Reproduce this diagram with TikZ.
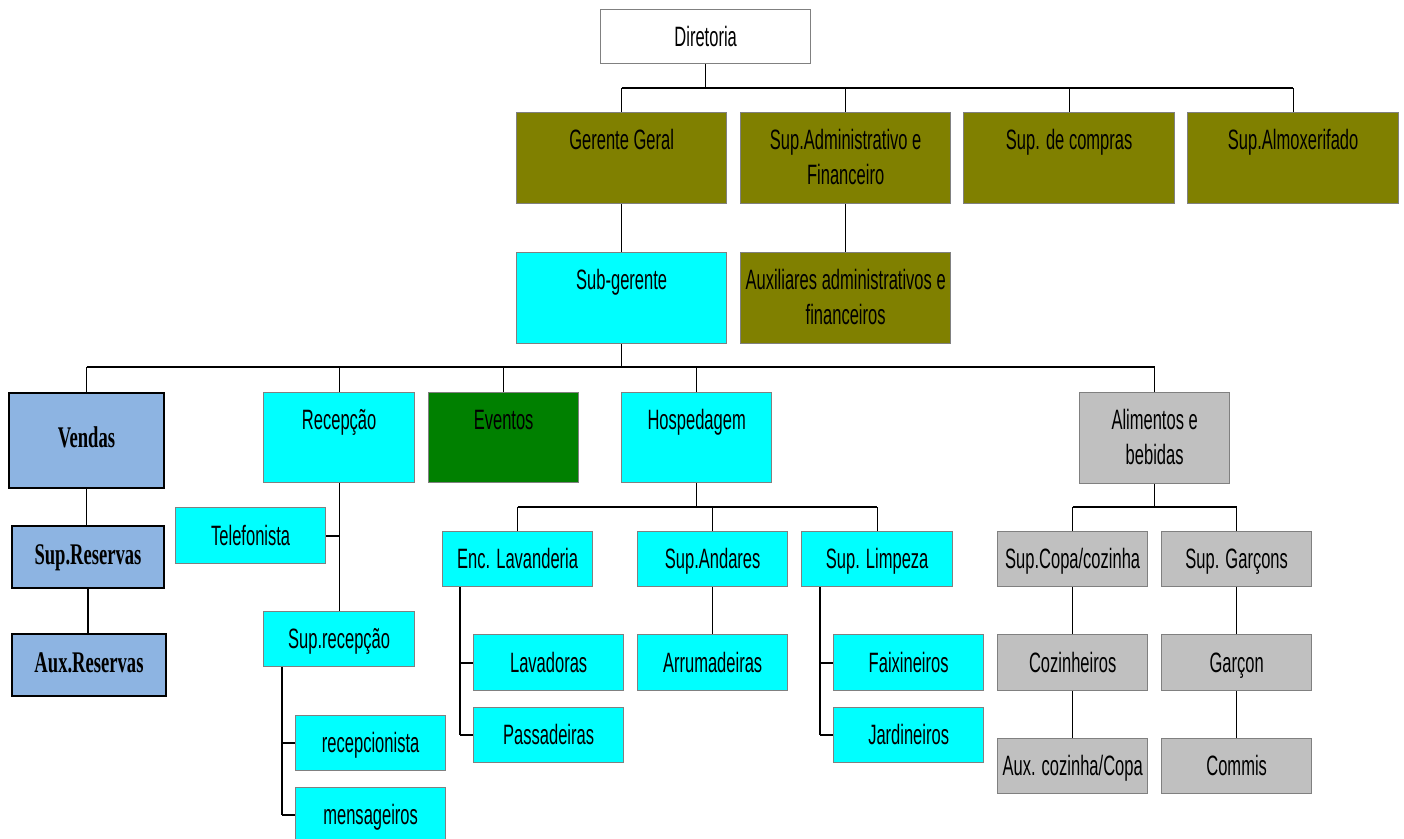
\documentclass[tikz,border=0pt]{standalone}
\usepackage{fontspec}
\setmainfont{Liberation Sans}[FakeStretch=0.59]
\newfontfamily\serifbold{Liberation Serif}[FakeStretch=0.62]
\definecolor{olivebox}{RGB}{128,128,0}
\definecolor{cyanbox}{RGB}{0,255,255}
\definecolor{greenbox}{RGB}{0,128,0}
\definecolor{graybox}{RGB}{192,192,192}
\definecolor{bluebox}{RGB}{141,180,226}
\definecolor{edgegray}{RGB}{128,128,128}
\begin{document}
\begin{tikzpicture}[x=1pt,y=-1pt,
  box/.style={draw=edgegray, line width=1.3pt, inner sep=0pt, anchor=north west,
    align=center, text height=37pt,
    font=\fontsize{28}{35}\selectfont},
  tall/.style={text depth=54pt},
  twoline/.style={text height=72pt, text depth=19pt},
  mid/.style={text depth=53pt},
  small/.style={text depth=18pt},
  sz/.style 2 args={minimum width=#1, minimum height=#2},
  olive/.style={box, fill=olivebox},
  cyan/.style={box, fill=cyanbox},
  grey/.style={box, fill=graybox},
  sales/.style={box, draw=black, line width=2pt, fill=bluebox,
    font=\fontsize{30}{36}\serifbold\bfseries},
  link/.style={draw=black, line width=1.3pt},
  bus/.style={draw=black, line width=2.2pt}
]
\useasboundingbox (0,0) rectangle (1404,838);

% top level
\node[box, fill=white, sz={210}{54}, text depth=17pt] (dir) at (600,9) {Diretoria};
\node[olive, tall, sz={210}{91}] (gg)    at (516,112) {Gerente Geral};
\node[olive, twoline, sz={210}{91}] (sadm)  at (740,112) {Sup.Administrativo e\\Financeiro};
\node[olive, tall, sz={211}{91}] (scomp) at (963,112) {Sup. de compras};
\node[olive, tall, sz={211}{91}] (salm)  at (1187,112) {Sup.Almoxerifado};
\node[cyan,  tall, sz={210}{91}] (subg)  at (516,252) {Sub-gerente};
\node[olive, twoline, sz={210}{91}] (auxadm) at (740,252) {Auxiliares administrativos e\\financeiros};

% departments
\node[sales, sz={155}{95}, text height=54pt, text depth=41pt] (vendas) at (8,392) {Vendas};
\node[cyan, mid, sz={151}{90}] (recep) at (263,392) {Recepção};
\node[box, fill=greenbox, mid, sz={150}{90}] (evt) at (428,392) {Eventos};
\node[cyan, mid, sz={150}{90}] (hosp) at (621,392) {Hospedagem};
\node[grey, twoline, sz={150}{91}] (alim) at (1079,392) {Alimentos e\\bebidas};

% sales
\node[sales, sz={152}{62}, text height=38pt, text depth=24pt] (supres) at (11,525) {Sup.Reservas};
\node[sales, sz={154}{62}, text height=38pt, text depth=24pt] (auxres) at (11,633) {Aux.Reservas};

% front desk
\node[cyan, small, sz={150}{56}] (telef)  at (175,507) {Telefonista};
\node[cyan, small, sz={151}{55}] (suprec) at (263,611) {Sup.recepção};
\node[cyan, small, sz={150}{55}] (recepc) at (295,715) {recepcionista};
\node[cyan, small, sz={150}{55}] (mens)   at (295,787) {mensageiros};

% housekeeping
\node[cyan, small, sz={150}{55}] (lav)   at (442,531) {Enc. Lavanderia};
\node[cyan, small, sz={150}{55}] (sand)  at (637,531) {Sup.Andares};
\node[cyan, small, sz={151}{55}] (slimp) at (801,531) {Sup. Limpeza};
\node[cyan, small, sz={150}{56}] (lavad) at (473,634) {Lavadoras};
\node[cyan, small, sz={150}{55}] (pass)  at (473,707) {Passadeiras};
\node[cyan, small, sz={150}{56}] (arrum) at (637,634) {Arrumadeiras};
\node[cyan, small, sz={150}{56}] (faix)  at (833,634) {Faixineiros};
\node[cyan, small, sz={150}{55}] (jard)  at (833,707) {Jardineiros};

% food and beverage
\node[grey, small, sz={150}{55}] (scopa)  at (997,531) {Sup.Copa/cozinha};
\node[grey, small, sz={150}{55}] (sgarc)  at (1161,531) {Sup. Garçons};
\node[grey, small, sz={150}{56}] (coz)    at (997,634) {Cozinheiros};
\node[grey, small, sz={150}{56}] (garcon) at (1161,634) {Garçon};
\node[grey, small, sz={150}{55}] (auxcoz) at (997,738) {Aux. cozinha/Copa};
\node[grey, small, sz={150}{55}] (commis) at (1161,738) {Commis};

% bus rails
\coordinate (b1) at (705,88);
\coordinate (b2) at (620,367);
\coordinate (b3) at (696,507);
\coordinate (b4) at (1154,507);
\coordinate (lavv) at ([xshift=18pt]lav.south west);
\coordinate (limv) at ([xshift=19pt]slimp.south west);
\coordinate (recv) at ([xshift=19pt]suprec.south west);

% board level
\draw[bus] (gg.north |- b1) -- (salm.north |- b1);
\draw[link] (dir.south) -- (dir.south |- b1);
\foreach \n in {gg,sadm,scomp,salm} \draw[link] (\n.north) -- (\n.north |- b1);
\draw[link] (gg.south) -- (subg.north);
\draw[link] (sadm.south) -- (auxadm.north);

% departments
\draw[bus] (vendas.north |- b2) -- (alim.north |- b2);
\draw[link] (subg.south) -- (subg.south |- b2);
\foreach \n in {vendas,recep,evt,hosp,alim} \draw[link] (\n.north) -- (\n.north |- b2);

% sales chain
\draw[link] (vendas.south) -- (vendas.south |- supres.north);
\draw[link] (supres.south) -- (supres.south |- auxres.north);

% front desk
\draw[link] (recep.south) -- (recep.south |- suprec.north);
\draw[bus] (telef.east) -- (recep.south |- telef.east);
\draw[link] (recv) -- (recv |- mens.west);
\draw[bus] (recv |- recepc.west) -- (recepc.west);
\draw[bus] (recv |- mens.west) -- (mens.west);

% housekeeping
\draw[bus] (lav.north |- b3) -- (slimp.north |- b3);
\draw[link] (hosp.south) -- (hosp.south |- b3);
\foreach \n in {lav,sand,slimp} \draw[link] (\n.north) -- (\n.north |- b3);
\draw[link] (sand.south) -- (arrum.north);
\draw[link] (lavv) -- (lavv |- pass.west);
\draw[bus] (lavv |- lavad.west) -- (lavad.west);
\draw[bus] (lavv |- pass.west) -- (pass.west);
\draw[link] (limv) -- (limv |- jard.west);
\draw[bus] (limv |- faix.west) -- (faix.west);
\draw[bus] (limv |- jard.west) -- (jard.west);

% food and beverage
\draw[bus] (scopa.north |- b4) -- (sgarc.north |- b4);
\draw[link] (alim.south) -- (alim.south |- b4);
\foreach \n in {scopa,sgarc} \draw[link] (\n.north) -- (\n.north |- b4);
\draw[link] (scopa.south) -- (coz.north);
\draw[link] (coz.south) -- (auxcoz.north);
\draw[link] (sgarc.south) -- (garcon.north);
\draw[link] (garcon.south) -- (commis.north);
\end{tikzpicture}
\end{document}
